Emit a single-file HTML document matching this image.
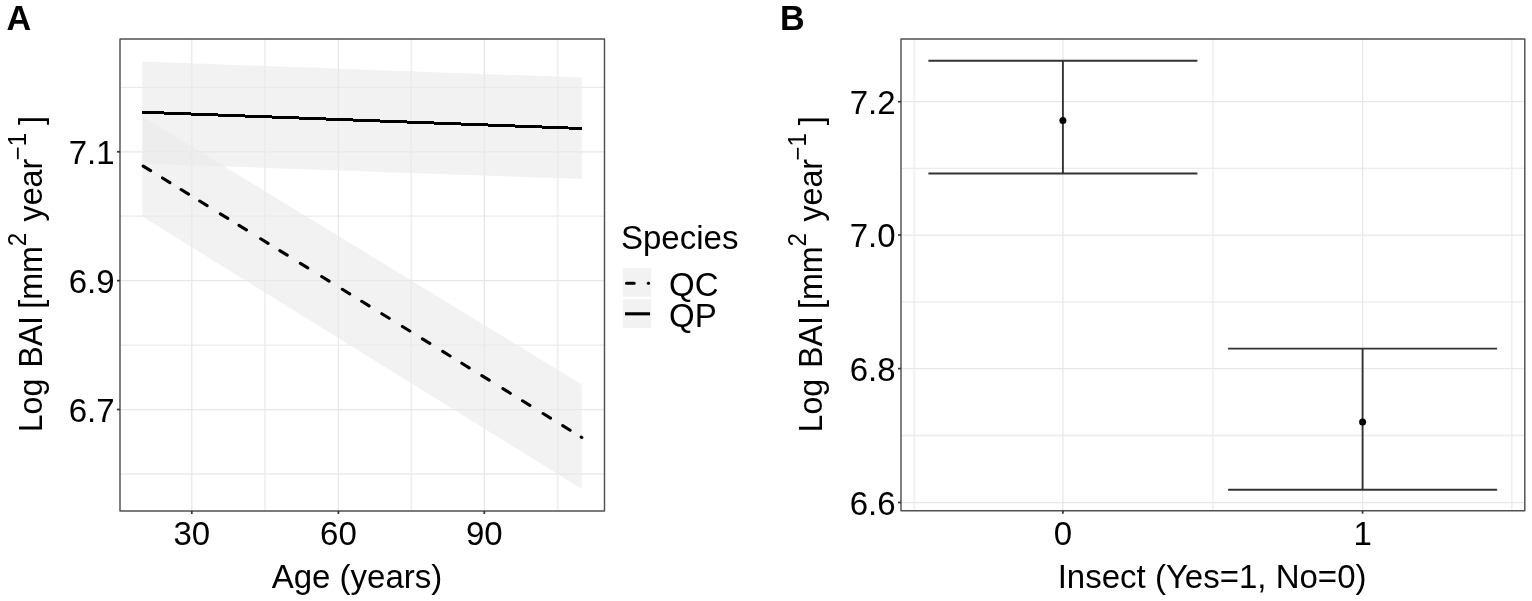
<!DOCTYPE html>
<html><head><meta charset="utf-8"><title>Figure</title>
<style>
html,body{margin:0;padding:0;background:#fff;}
body{width:1532px;height:601px;overflow:hidden;}
svg{display:block;}
text{font-family:"Liberation Sans", Arial, sans-serif;fill:#000;}
</style></head><body>
<svg width="1532" height="601" viewBox="0 0 1532 601">
<rect x="0" y="0" width="1532" height="601" fill="#fff"/>

<g id="gridA"><line x1="265" y1="39" x2="265" y2="511" stroke="#ebebeb" stroke-width="1.3"/><line x1="411.2" y1="39" x2="411.2" y2="511" stroke="#ebebeb" stroke-width="1.3"/><line x1="557.8" y1="39" x2="557.8" y2="511" stroke="#ebebeb" stroke-width="1.3"/><line x1="120" y1="87.4" x2="604.5" y2="87.4" stroke="#ebebeb" stroke-width="1.3"/><line x1="120" y1="216.2" x2="604.5" y2="216.2" stroke="#ebebeb" stroke-width="1.3"/><line x1="120" y1="345.1" x2="604.5" y2="345.1" stroke="#ebebeb" stroke-width="1.3"/><line x1="120" y1="474" x2="604.5" y2="474" stroke="#ebebeb" stroke-width="1.3"/><line x1="191.8" y1="39" x2="191.8" y2="511" stroke="#e7e7e7" stroke-width="1.25"/><line x1="338.4" y1="39" x2="338.4" y2="511" stroke="#e7e7e7" stroke-width="1.25"/><line x1="484.3" y1="39" x2="484.3" y2="511" stroke="#e7e7e7" stroke-width="1.25"/><line x1="120" y1="151.8" x2="604.5" y2="151.8" stroke="#e7e7e7" stroke-width="1.25"/><line x1="120" y1="280.65" x2="604.5" y2="280.65" stroke="#e7e7e7" stroke-width="1.25"/><line x1="120" y1="409.5" x2="604.5" y2="409.5" stroke="#e7e7e7" stroke-width="1.25"/></g>
<polygon points="142.3,116.3 581.8,384.5 581.8,489 142.3,216.5" fill="#e9e9e9" fill-opacity="0.6"/>
<polygon points="142.3,61.5 581.8,77.5 581.8,179 142.3,163.5" fill="#e9e9e9" fill-opacity="0.6"/>
<path d="M143.2 166.06L150.6 170.64M162.5 178L169.9 182.58M181.1 189.51L188.5 194.09M199.7 201.02L207.1 205.6M220.4 213.83L227.8 218.41M239 225.35L246.4 229.93M260.7 238.78L268.1 243.36M279.8 250.6L287.2 255.18M300.4 263.35L307.8 267.93M321.7 276.53L329.1 281.11M342.3 289.28L349.7 293.86M361.7 301.28L369.1 305.86M381.8 313.72L389.2 318.3M402.4 326.47L409.8 331.05M422.4 338.85L429.8 343.43M442.7 351.41L450.1 355.99M461.8 363.23L469.2 367.81M481.8 375.61L489.2 380.19M502.9 388.67L510.3 393.25M522.5 400.8L529.9 405.38M543.1 413.55L550.5 418.13M562.7 425.68L570.1 430.26M581.2 437.13L581.8 437.5" fill="none" stroke="#000" stroke-width="3.1" stroke-linecap="round"/>
<line x1="142.3" y1="112.2" x2="581.8" y2="128.5" stroke="#000" stroke-width="3" shape-rendering="crispEdges"/>
<rect x="120" y="39" width="484.5" height="472" fill="none" stroke="#505050" stroke-width="1.45" stroke-linejoin="round"/>
<line x1="117" y1="151.8" x2="120" y2="151.8" stroke="#333" stroke-width="1.7"/><line x1="117" y1="280.65" x2="120" y2="280.65" stroke="#333" stroke-width="1.7"/><line x1="117" y1="409.5" x2="120" y2="409.5" stroke="#333" stroke-width="1.7"/><line x1="191.8" y1="511" x2="191.8" y2="514" stroke="#333" stroke-width="1.7"/><line x1="338.4" y1="511" x2="338.4" y2="514" stroke="#333" stroke-width="1.7"/><line x1="484.3" y1="511" x2="484.3" y2="514" stroke="#333" stroke-width="1.7"/>
<text x="114.5" y="164" font-size="33" text-anchor="end">7.1</text>
<text x="114.5" y="292.85" font-size="33" text-anchor="end">6.9</text>
<text x="114.5" y="421.7" font-size="33" text-anchor="end">6.7</text>
<text x="191.8" y="544.5" font-size="33" text-anchor="middle">30</text>
<text x="338.4" y="544.5" font-size="33" text-anchor="middle">60</text>
<text x="484.3" y="544.5" font-size="33" text-anchor="middle">90</text>
<text x="357" y="587.9" font-size="33" text-anchor="middle">Age (years)</text>
<text transform="translate(41.7,432.3) rotate(-90) scale(1,1.04)" font-size="32.2">Log <tspan dx="1.8">BAI</tspan><tspan dx="-1.8"> [mm</tspan><tspan font-size="24" dy="-15.4">2</tspan><tspan dy="15.4" dx="2.5"> year</tspan><tspan font-size="24" dy="-15.4" dx="-1.5">−1</tspan><tspan dy="15.4" dx="-1"> ]</tspan></text>
<text x="621" y="248.8" font-size="33">Species</text>
<rect x="622.8" y="268.2" width="28.6" height="28.6" fill="#f2f2f2"/>
<rect x="622.8" y="299.4" width="28.6" height="28.6" fill="#f2f2f2"/>
<path d="M626.5 283.3L634.2 283.3M648.2 283.3L648.6 283.3" fill="none" stroke="#000" stroke-width="3.1" stroke-linecap="round"/>
<line x1="625" y1="313.8" x2="650" y2="313.8" stroke="#000" stroke-width="3.1"/>
<text x="669" y="295.5" font-size="33">QC</text>
<text x="669" y="326.5" font-size="33">QP</text>
<text x="6.5" y="30" font-size="34.2" font-weight="bold">A</text>
<text x="780" y="30" font-size="34.2" font-weight="bold">B</text>
<g id="gridB"><line x1="914.2" y1="39" x2="914.2" y2="510.7" stroke="#ebebeb" stroke-width="1.3"/><line x1="1213" y1="39" x2="1213" y2="510.7" stroke="#ebebeb" stroke-width="1.3"/><line x1="1511.8" y1="39" x2="1511.8" y2="510.7" stroke="#ebebeb" stroke-width="1.3"/><line x1="901" y1="168.4" x2="1524.8" y2="168.4" stroke="#ebebeb" stroke-width="1.3"/><line x1="901" y1="301.8" x2="1524.8" y2="301.8" stroke="#ebebeb" stroke-width="1.3"/><line x1="901" y1="435.5" x2="1524.8" y2="435.5" stroke="#ebebeb" stroke-width="1.3"/><line x1="1062.9" y1="39" x2="1062.9" y2="510.7" stroke="#e7e7e7" stroke-width="1.25"/><line x1="1362.6" y1="39" x2="1362.6" y2="510.7" stroke="#e7e7e7" stroke-width="1.25"/><line x1="901" y1="101.7" x2="1524.8" y2="101.7" stroke="#e7e7e7" stroke-width="1.25"/><line x1="901" y1="235" x2="1524.8" y2="235" stroke="#e7e7e7" stroke-width="1.25"/><line x1="901" y1="368.6" x2="1524.8" y2="368.6" stroke="#e7e7e7" stroke-width="1.25"/><line x1="901" y1="502.5" x2="1524.8" y2="502.5" stroke="#e7e7e7" stroke-width="1.25"/></g>
<line x1="928.4" y1="60.8" x2="1197.4" y2="60.8" stroke="#333333" stroke-width="1.9"/>
<line x1="928.4" y1="173.5" x2="1197.4" y2="173.5" stroke="#333333" stroke-width="1.9"/>
<line x1="1062.9" y1="60.8" x2="1062.9" y2="173.5" stroke="#333333" stroke-width="1.9"/>
<circle cx="1062.9" cy="120.6" r="3.5" fill="#000"/>
<line x1="1228.1" y1="348.6" x2="1497.1" y2="348.6" stroke="#333333" stroke-width="1.9"/>
<line x1="1228.1" y1="489.8" x2="1497.1" y2="489.8" stroke="#333333" stroke-width="1.9"/>
<line x1="1362.6" y1="348.6" x2="1362.6" y2="489.8" stroke="#333333" stroke-width="1.9"/>
<circle cx="1362.6" cy="422.0" r="3.5" fill="#000"/>
<rect x="901" y="39" width="623.8" height="471.7" fill="none" stroke="#505050" stroke-width="1.45" stroke-linejoin="round"/>
<line x1="898" y1="101.7" x2="901" y2="101.7" stroke="#333" stroke-width="1.7"/><line x1="898" y1="235" x2="901" y2="235" stroke="#333" stroke-width="1.7"/><line x1="898" y1="368.6" x2="901" y2="368.6" stroke="#333" stroke-width="1.7"/><line x1="898" y1="502.5" x2="901" y2="502.5" stroke="#333" stroke-width="1.7"/><line x1="1062.9" y1="510.7" x2="1062.9" y2="513.7" stroke="#333" stroke-width="1.7"/><line x1="1362.6" y1="510.7" x2="1362.6" y2="513.7" stroke="#333" stroke-width="1.7"/>
<text x="895.5" y="113.9" font-size="33" text-anchor="end">7.2</text>
<text x="895.5" y="247.2" font-size="33" text-anchor="end">7.0</text>
<text x="895.5" y="380.8" font-size="33" text-anchor="end">6.8</text>
<text x="895.5" y="514.7" font-size="33" text-anchor="end">6.6</text>
<text x="1062.9" y="544.5" font-size="33" text-anchor="middle">0</text>
<text x="1362.6" y="544.5" font-size="33" text-anchor="middle">1</text>
<text x="1212.1" y="587.7" font-size="33" text-anchor="middle">Insect (Yes=1, No=0)</text>
<text transform="translate(821.6,432.5) rotate(-90) scale(1,1.04)" font-size="32.2">Log <tspan dx="1.8">BAI</tspan><tspan dx="-1.8"> [mm</tspan><tspan font-size="24" dy="-15.4">2</tspan><tspan dy="15.4" dx="2.5"> year</tspan><tspan font-size="24" dy="-15.4" dx="-1.5">−1</tspan><tspan dy="15.4" dx="-1"> ]</tspan></text>
</svg>
</body></html>
